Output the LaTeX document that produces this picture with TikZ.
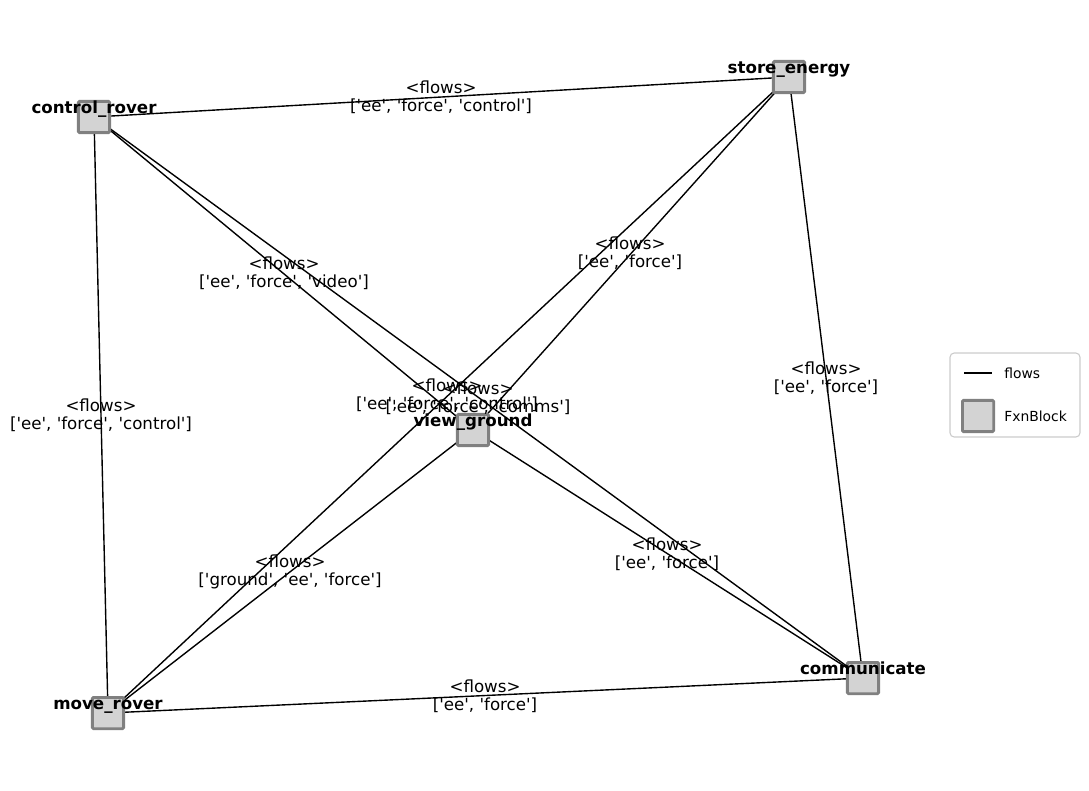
\documentclass[tikz,border=0pt]{standalone}
\usepackage{fontspec}
\setmainfont{DejaVu Sans}[Ligatures=TeXOff]
\begin{document}
\begin{tikzpicture}[x=0.72pt,y=-0.72pt,
  fxn/.style={draw={rgb,255:red,128;green,128;blue,128},fill={rgb,255:red,211;green,211;blue,211},line width=2pt,minimum size=22.5pt,inner sep=0pt,rounded corners=0.8pt},
  edge/.style={line width=1pt,black},
  elabel/.style={font=\fontsize{12}{13}\selectfont,align=center,inner sep=0pt},
  nlabel/.style={font=\fontsize{12}{13}\selectfont\bfseries,inner sep=0pt,anchor=base},
  legtext/.style={font=\fontsize{10}{12}\selectfont,anchor=west,inner sep=0pt}]
\useasboundingbox (0,0) rectangle (1089,790);
% node positions
\coordinate (cr) at (94,117);
\coordinate (se) at (789,77);
\coordinate (vg) at (473,430);
\coordinate (mr) at (108,713);
\coordinate (cm) at (863,678);
% edges
\draw[edge] (cr) -- (se);
\draw[edge] (cr) -- (mr);
\draw[edge] (se) -- (cm);
\draw[edge] (mr) -- (cm);
\draw[edge] (cr) -- (vg);
\draw[edge] (se) -- (vg);
\draw[edge] (vg) -- (mr);
\draw[edge] (vg) -- (cm);
\draw[edge] (cr) -- (cm);
\draw[edge] (se) -- (mr);
% nodes
\node[fxn] (ncr) at (cr) {};
\node[fxn] (nse) at (se) {};
\node[fxn] (nvg) at (vg) {};
\node[fxn] (nmr) at (mr) {};
\node[fxn] (ncm) at (cm) {};
% edge labels
\node[elabel] (l1) at (441,97) {<flows>\\{}['ee', 'force', 'control']};
\node[elabel] (l2) at (101,415) {<flows>\\{}['ee', 'force', 'control']};
\node[elabel] (l3) at (826,378) {<flows>\\{}['ee', 'force']};
\node[elabel] (l4) at (485,696) {<flows>\\{}['ee', 'force']};
\node[elabel] (l5) at (284,273) {<flows>\\{}['ee', 'force', 'video']};
\node[elabel] (l6) at (630,253) {<flows>\\{}['ee', 'force']};
\node[elabel] (l7) at (290,572) {<flows>\\{}['ground', 'ee', 'force']};
\node[elabel] (l8) at (667,554) {<flows>\\{}['ee', 'force']};
\node[elabel] (l9) at (478,398) {<flows>\\{}['ee', 'force', 'comms']};
\node[elabel] (l10) at (447,395) {<flows>\\{}['ee', 'force', 'control']};
% node labels
\node[nlabel] (tcr) at (94,113) {control\_rover};
\node[nlabel] (tse) at (789,73) {store\_energy};
\node[nlabel] (tvg) at (473,426) {view\_ground};
\node[nlabel] (tmr) at (108,709) {move\_rover};
\node[nlabel] (tcm) at (863,674) {communicate};
% legend
\draw[draw={rgb,255:red,204;green,204;blue,204},fill=white,line width=0.8pt,rounded corners=3pt] (950,353) rectangle (1080,437);
\coordinate (la) at (964,373);
\coordinate (lb) at (992,373);
\draw[edge] (la) -- (lb);
\node[legtext] (lt1) at (1004,373) {flows};
\node[fxn] (lsq) at (978,416) {};
\node[legtext] (lt2) at (1004,416) {FxnBlock};
\end{tikzpicture}
\end{document}
